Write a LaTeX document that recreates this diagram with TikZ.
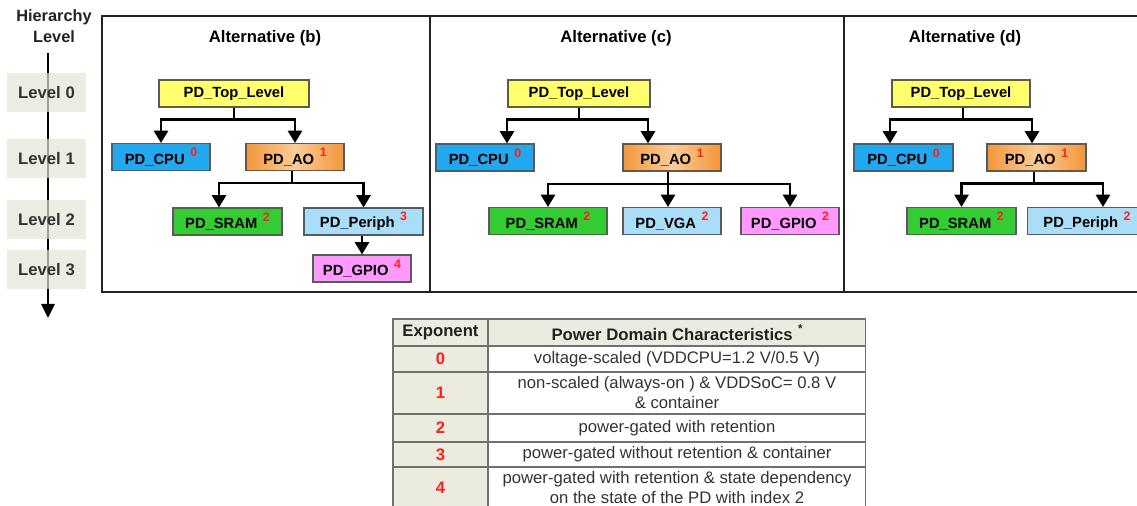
\documentclass[tikz,border=0pt]{standalone}
\usepackage{fontspec}
\setmainfont{Liberation Sans}
\usetikzlibrary{arrows.meta,calc}
\definecolor{pdyellow}{HTML}{FFFF6E}
\definecolor{pdblue}{HTML}{22A8EE}
\definecolor{pdgreen}{HTML}{33CC33}
\definecolor{pdlight}{HTML}{AADDF8}
\definecolor{pdpink}{HTML}{FF99FF}
\definecolor{pdorD}{HTML}{F2963A}
\definecolor{pdorL}{HTML}{FBCC96}
\definecolor{lvlfill}{HTML}{E3E5D6}
\definecolor{hdrfill}{HTML}{EBEBE0}
\definecolor{boxline}{HTML}{5A5A5A}
\definecolor{tabline}{HTML}{707070}
\definecolor{framec}{HTML}{222222}
\definecolor{exred}{HTML}{FF1E1E}
\definecolor{txt}{HTML}{333333}
\newcommand\pdexp[1]{\hspace{3.2pt}\raisebox{0.5em}{\fontsize{7}{7}\selectfont\color{exred}#1}}
\begin{document}
\begin{tikzpicture}[x=0.02cm,y=-0.02cm,
  pd/.style={draw=boxline, line width=0.6pt, inner sep=0pt, minimum height=0.54cm,
    font=\fontsize{8.4}{10}\selectfont\bfseries, text=black},
  pw/.style={minimum width=#1*0.02cm},
  conn/.style={line width=1.4pt, draw=black, -{Triangle[width=8pt,length=7pt]}},
  frame/.style={draw=framec, line width=1.3pt},
  lvl/.style={fill=lvlfill, fill opacity=0.7, text opacity=1, minimum width=1.6cm,
    minimum height=0.78cm, inner sep=0pt, font=\fontsize{9.5}{11}\selectfont\bfseries, text=txt},
  title/.style={font=\fontsize{9.5}{11}\selectfont\bfseries, text=black},
  cell/.style={draw=tabline, line width=0.6pt, inner sep=0pt, align=center,
    font=\fontsize{9.5}{11.4}\selectfont, text=txt},
  excell/.style={cell, fill=hdrfill, font=\fontsize{9.5}{11.4}\selectfont\bfseries, text=exred}
]
\useasboundingbox (0,0) rectangle (1137,506);
\clip (0,0) rectangle (1137,506);

% hierarchy axis
\node[font=\fontsize{9.3}{11.9}\selectfont\bfseries, align=center, text=framec] (hier) at (54,26.5) {Hierarchy\\Level};
\coordinate (axtop) at (48,53);
\coordinate (axend) at (48,318);
\draw[line width=1.4pt, -{Triangle[width=7.5pt,length=8pt]}] (axtop) -- (axend);
\node[lvl] (l0) at (46.5,92.5) {Level 0};
\node[lvl] (l1) at (46.5,158.5) {Level 1};
\node[lvl] (l2) at (46.5,219.5) {Level 2};
\node[lvl] (l3) at (46.5,269.5) {Level 3};

% frame
\draw[frame] (102,16) rectangle (1150,292);
\draw[frame] (430,16) -- (430,292);
\draw[frame] (844,16) -- (844,292);

% titles
\node[title] (tb) at (265,38) {Alternative (b)};
\node[title] (tc) at (616,38) {Alternative (c)};
\node[title] (td) at (965,38) {Alternative (d)};

% Alternative (b)
\node[pd, pw=150, fill=pdyellow] (topb) at (234,93.5) {PD\_Top\_Level};
\node[pd, pw=98, fill=pdblue] (cpub) at (161,157) {PD\_CPU\pdexp{0}};
\node[pd, pw=98, left color=pdorD, right color=pdorD, middle color=pdorL] (aob) at (295,157) {PD\_AO\pdexp{1}};
\node[pd, pw=109, fill=pdgreen] (sramb) at (227.5,221.5) {PD\_SRAM\pdexp{2}};
\node[pd, pw=119, fill=pdlight] (periphb) at (363.5,221.5) {PD\_Periph\pdexp{3}};
\node[pd, pw=98, fill=pdpink] (gpiob) at (362,268.5) {PD\_GPIO\pdexp{4}};
\draw[conn] (topb.south) -- ++(0,12) -| (cpub.north);
\draw[conn] (topb.south) -- ++(0,12) -| (aob.north);
\draw[conn] ([xshift=-0.06cm]aob.south) -- ++(0,12) -| ([xshift=-0.17cm]sramb.north);
\draw[conn] ([xshift=-0.06cm]aob.south) -- ++(0,12) -| (periphb.north);
\draw[conn] (periphb.south -| gpiob.north) -- (gpiob.north);

% Alternative (c)
\node[pd, pw=142, fill=pdyellow] (topc) at (579,93.5) {PD\_Top\_Level};
\node[pd, pw=98, fill=pdblue] (cpuc) at (485,157.5) {PD\_CPU\pdexp{0}};
\node[pd, pw=98, left color=pdorD, right color=pdorD, middle color=pdorL] (aoc) at (672,157.5) {PD\_AO\pdexp{1}};
\node[pd, pw=118, fill=pdgreen] (sramc) at (548,221) {PD\_SRAM\pdexp{2}};
\node[pd, pw=98, fill=pdlight] (vgac) at (672,221) {PD\_VGA\pdexp{2}};
\node[pd, pw=98, fill=pdpink] (gpioc) at (790,221) {PD\_GPIO\pdexp{2}};
\draw[conn] (topc.south) -- ++(0,12) -| ([xshift=0.44cm]cpuc.north);
\draw[conn] (topc.south) -- ++(0,12) -| ([xshift=-0.48cm]aoc.north);
\draw[conn] ([xshift=-0.08cm]aoc.south) -- ++(0,12.5) -| (sramc.north);
\draw[conn] ([xshift=-0.08cm]aoc.south) -- ([xshift=-0.08cm]vgac.north);
\draw[conn] ([xshift=-0.08cm]aoc.south) -- ++(0,12.5) -| (gpioc.north);

% Alternative (d)
\node[pd, pw=138, fill=pdyellow] (topd) at (961,93.5) {PD\_Top\_Level};
\node[pd, pw=99, fill=pdblue] (cpud) at (903.5,157.5) {PD\_CPU\pdexp{0}};
\node[pd, pw=99, left color=pdorD, right color=pdorD, middle color=pdorL] (aod) at (1036.5,157.5) {PD\_AO\pdexp{1}};
\node[pd, pw=109, fill=pdgreen] (sramd) at (961.5,221) {PD\_SRAM\pdexp{2}};
\node[pd, pw=119, fill=pdlight] (periphd) at (1087,221) {PD\_Periph\pdexp{2}};
\draw[conn] ([xshift=0.04cm]topd.south) -- ++(0,12) -| ([xshift=-0.27cm]cpud.north);
\draw[conn] ([xshift=0.04cm]topd.south) -- ++(0,12) -| ([xshift=-0.09cm]aod.north);
\draw[conn] ([xshift=-0.05cm]aod.south) -- ++(0,12) -| (sramd.north);
\draw[conn] ([xshift=-0.05cm]aod.south) -- ++(0,12) -| ([xshift=0.32cm]periphd.north);

% table
\node[cell, fill=hdrfill, minimum width=1.9cm, minimum height=0.54cm, font=\fontsize{9.5}{11.4}\selectfont\bfseries, text=framec] (h1) at (440.5,332.5) {Exponent};
\node[cell, fill=hdrfill, minimum width=7.56cm, minimum height=0.54cm, font=\fontsize{9.5}{11.4}\selectfont\bfseries, text=framec] (h2) at (677,332.5) {Power Domain Characteristics\hspace{3pt}\raisebox{0.45em}{\fontsize{6.5}{6.5}\selectfont *}};
\node[excell, minimum width=1.9cm, minimum height=0.52cm] (e0) at (440.5,359) {0};
\node[cell, minimum width=7.56cm, minimum height=0.52cm] (d0) at (677,359) {voltage-scaled (VDDCPU=1.2 V/0.5 V)};
\node[excell, minimum width=1.9cm, minimum height=0.84cm] (e1) at (440.5,393) {1};
\node[cell, minimum width=7.56cm, minimum height=0.84cm] (d1) at (677,393) {non-scaled (always-on ) \& VDDSoC= 0.8 V\\\& container};
\node[excell, minimum width=1.9cm, minimum height=0.56cm] (e2) at (440.5,428) {2};
\node[cell, minimum width=7.56cm, minimum height=0.56cm] (d2) at (677,428) {power-gated with retention};
\node[excell, minimum width=1.9cm, minimum height=0.5cm] (e3) at (440.5,454.5) {3};
\node[cell, minimum width=7.56cm, minimum height=0.5cm] (d3) at (677,454.5) {power-gated without retention \& container};
\node[excell, minimum width=1.9cm, minimum height=0.84cm] (e4) at (440.5,488) {4};
\node[cell, minimum width=7.56cm, minimum height=0.84cm] (d4) at (677,488) {power-gated with retention \& state dependency\\on the state of the PD with index 2};
\end{tikzpicture}
\end{document}
